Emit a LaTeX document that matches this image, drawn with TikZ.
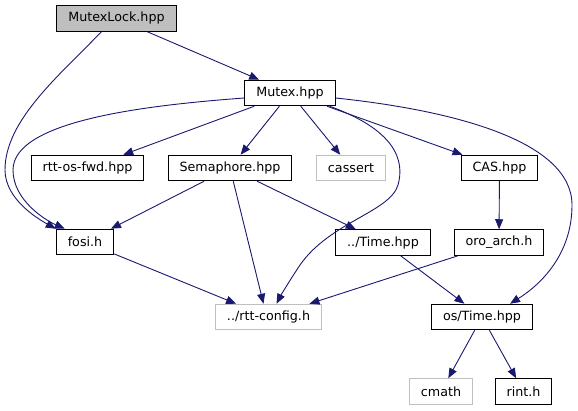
\documentclass[tikz,border=0pt]{standalone}
\usepackage{fontspec}
\setmainfont{DejaVu Sans}
\usetikzlibrary{arrows.meta}
\definecolor{edgeblue}{HTML}{191970}
\definecolor{sysgray}{HTML}{BFBFBF}

\begin{document}
\begin{tikzpicture}[x=1pt, y=-1pt, >={Stealth[inset=0pt, length=10pt, width=8pt]}]
  \tikzstyle{hdr}=[draw, line width=1pt, fill=white, minimum height=25.5pt, inner xsep=11.5pt, inner ysep=0pt, font=\fontsize{12.7}{15}\selectfont]
  \tikzstyle{sys}=[hdr, draw=sysgray]
  \tikzstyle{root}=[hdr, fill=sysgray]
  \tikzstyle{dep}=[->, draw=edgeblue, line width=0.9pt]

  \useasboundingbox (0,0) rectangle (578,411);

  \node[root] (lock) at (116.5,18.5) {MutexLock.hpp};
  \node[hdr] (mutex) at (290,93) {Mutex.hpp};
  \node[hdr] (fwd) at (87.5,168) {rtt-os-fwd.hpp};
  \node[hdr] (sem) at (230,168) {Semaphore.hpp};
  \node[sys] (cassert) at (351,168) {cassert};
  \node[hdr] (cas) at (499.5,168) {CAS.hpp};
  \node[hdr] (fosi) at (85,242) {fosi.h};
  \node[hdr] (time) at (383,242.5) {../Time.hpp};
  \node[hdr] (arch) at (499,242.5) {oro\_arch.h};
  \node[sys] (config) at (268.5,317) {../rtt-config.h};
  \node[hdr] (ostime) at (482,317) {os/Time.hpp};
  \node[sys] (cmath) at (441,391.5) {cmath};
  \node[hdr] (rint) at (523.5,391.5) {rint.h};

  \draw[dep] (lock) -- (mutex);
  \draw[dep] (lock.south west) ++(45,0) .. controls (60,75) and (5,120) .. (5,170)
    .. controls (5,200) and (40,220) .. (fosi.north west);
  % curved ones around the left side
  \draw[dep] (mutex.west) ++(0,5) .. controls (150,105) and (13,120) .. (13,170)
    .. controls (13,200) and (45,220) .. ([xshift=9pt]fosi.north west);
  \draw[dep] (mutex) -- (fwd);
  \draw[dep] (mutex) -- (sem);
  \draw[dep] (mutex) -- (cassert);
  \draw[dep] (mutex.south east) ++(-6,0) .. controls (395,130) and (405,160) .. (398,185)
    .. controls (390,212) and (330,222) .. (300,265) .. controls (290,280) and (281,295) .. ([xshift=8pt]config.north);
  \draw[dep] (mutex) -- (cas);
  \draw[dep] (mutex.east) ++(0,5) .. controls (450,110) and (572,140) .. (572,205)
    .. controls (572,255) and (540,285) .. ([xshift=28pt]ostime.north);
  \draw[dep] (sem) -- (fosi);
  \draw[dep] (sem) -- ([xshift=-5pt]config.north);
  \draw[dep] (sem) -- (time);
  \draw[dep] (fosi) -- (config);
  \draw[dep] (cas) -- (arch);
  \draw[dep] (arch) -- (config);
  \draw[dep] (time) -- (ostime);
  \draw[dep] (ostime) -- (cmath);
  \draw[dep] (ostime) -- (rint);
\end{tikzpicture}
\end{document}
